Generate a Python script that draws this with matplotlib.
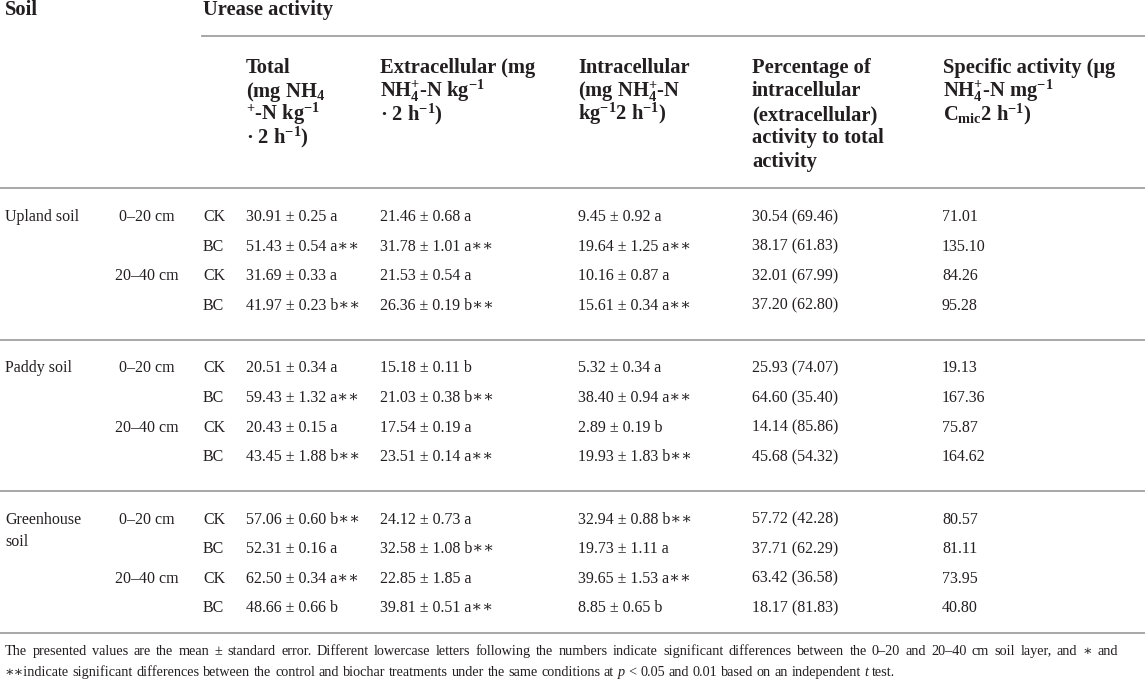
import matplotlib
matplotlib.use("Agg")
from matplotlib import pyplot as plt

plt.rcParams['font.family'] = ['Liberation Serif', 'DejaVu Serif']
plt.rcParams['mathtext.fontset'] = 'custom'
plt.rcParams['mathtext.rm'] = 'Liberation Serif'
plt.rcParams['mathtext.bf'] = 'Liberation Serif:bold'
plt.rcParams['mathtext.it'] = 'Liberation Serif:italic'

# table data
soils = ["Upland soil", "Paddy soil", "Greenhouse\nsoil"]
depths = ["0–20 cm", "20–40 cm"]
treatments = ["CK", "BC"]

total_mean = [30.91, 51.43, 31.69, 41.97, 20.51, 59.43, 20.43, 43.45, 57.06, 52.31, 62.50, 48.66]
total_se = [0.25, 0.54, 0.33, 0.23, 0.34, 1.32, 0.15, 1.88, 0.60, 0.16, 0.34, 0.66]
total_sig = ["a", "a**", "a", "b**", "a", "a**", "a", "b**", "b**", "a", "a**", "b"]

extra_mean = [21.46, 31.78, 21.53, 26.36, 15.18, 21.03, 17.54, 23.51, 24.12, 32.58, 22.85, 39.81]
extra_se = [0.68, 1.01, 0.54, 0.19, 0.11, 0.38, 0.19, 0.14, 0.73, 1.08, 1.85, 0.51]
extra_sig = ["a", "a**", "a", "b**", "b", "b**", "a", "a**", "a", "b**", "a", "a**"]

intra_mean = [9.45, 19.64, 10.16, 15.61, 5.32, 38.40, 2.89, 19.93, 32.94, 19.73, 39.65, 8.85]
intra_se = [0.92, 1.25, 0.87, 0.34, 0.34, 0.94, 0.19, 1.83, 0.88, 1.11, 1.53, 0.65]
intra_sig = ["a", "a**", "a", "a**", "a", "a**", "b", "b**", "b**", "a", "a**", "b"]

pct_intra = [30.54, 38.17, 32.01, 37.20, 25.93, 64.60, 14.14, 45.68, 57.72, 37.71, 63.42, 18.17]
pct_extra = [69.46, 61.83, 67.99, 62.80, 74.07, 35.40, 85.86, 54.32, 42.28, 62.29, 36.58, 81.83]
specific = [71.01, 135.10, 84.26, 95.28, 19.13, 167.36, 75.87, 164.62, 80.57, 81.11, 73.95, 40.80]

col_heads = [
    ["Total", r"(mg NH$_\mathbf{4}$", r"$^\mathbf{+}$-N kg$^{\mathbf{-1}}$", r"· 2 h$^{\mathbf{-1}}$)"],
    ["Extracellular (mg", r"NH$_\mathbf{4}^\mathbf{+}$-N kg$^{\mathbf{-1}}$", r"· 2 h$^{\mathbf{-1}}$)"],
    ["Intracellular", r"(mg NH$_\mathbf{4}^\mathbf{+}$-N", r"kg$^{\mathbf{-1}}$2 h$^{\mathbf{-1}}$)"],
    ["Percentage of", "intracellular", "(extracellular)", "activity to total", "activity"],
    ["Specific activity (μg", r"NH$_\mathbf{4}^\mathbf{+}$-N mg$^{\mathbf{-1}}$", r"C$_\mathbf{mic}$2 h$^{\mathbf{-1}}$)"],
]

# footnote, words marked with _ are italic
footnote = [
    "The presented values are the mean ± standard error. Different lowercase letters following the numbers "
    "indicate significant differences between the 0–20 and 20–40 cm soil layer, and ∗ and",
    "∗∗indicate significant differences between the control and biochar treatments under the same "
    "conditions at _p < 0.05 and 0.01 based on an independent _t test.",
]

ink = '#231f20'
rule = '#a0a0a0'
col_x = [246, 380, 578, 752, 943]
group_lines = [188, 339.5, 490.5, 633]
row_step = 29.6
head_fs = 14.8
body_fs = 11.5
note_fs = 10.3

fig = plt.figure(figsize=(11.45, 6.8), dpi=100)
ax = fig.add_axes([0, 0, 1, 1])
ax.set_xlim(0, 1145)
ax.set_ylim(680, 0)
ax.axis('off')

# header
ax.text(5, 15, "Soil", fontsize=head_fs, fontweight='bold', color=ink)
ax.text(203, 15, "Urease activity", fontsize=head_fs, fontweight='bold', color=ink)
ax.plot([202, 1145], [36, 36], color=rule, lw=1.3)
for x, lines in zip(col_x, col_heads):
    for k, s in enumerate(lines):
        ax.text(x, 73 + 23.5 * k, s, fontsize=head_fs, fontweight='bold', color=ink)

for y in group_lines:
    ax.plot([0, 1145], [y, y], color=rule, lw=1.3)

def star(s):
    return s.replace('*', '∗')

for g, soil in enumerate(soils):
    base = group_lines[g] + 33
    for k, part in enumerate(soil.split("\n")):
        ax.text(5, base + 22 * k, part, fontsize=body_fs, color=ink)
    for d, depth in enumerate(depths):
        ax.text(147, base + 2 * d * row_step, depth, fontsize=body_fs, color=ink, ha='center')
        for t, trt in enumerate(treatments):
            i = g * 4 + d * 2 + t
            y = base + (2 * d + t) * row_step
            ax.text(203, y, trt, fontsize=body_fs, color=ink)
            cells = [
                f"{total_mean[i]:.2f} ± {total_se[i]:.2f} {star(total_sig[i])}",
                f"{extra_mean[i]:.2f} ± {extra_se[i]:.2f} {star(extra_sig[i])}",
                f"{intra_mean[i]:.2f} ± {intra_se[i]:.2f} {star(intra_sig[i])}",
                f"{pct_intra[i]:.2f} ({pct_extra[i]:.2f})",
                f"{specific[i]:.2f}",
            ]
            for x, s in zip(col_x, cells):
                ax.text(x - 1 if x == 943 else x, y, s, fontsize=body_fs, color=ink)

# footnote set word by word; first line justified
renderer = fig.canvas.get_renderer()
def w_of(t):
    return t.get_window_extent(renderer).width

probe = ax.text(0, 0, "a a", fontsize=note_fs)
probe2 = ax.text(0, 0, "aa", fontsize=note_fs)
space_w = w_of(probe) - w_of(probe2)
probe.remove()
probe2.remove()

for k, line in enumerate(footnote):
    words = []
    for wd in line.split(' '):
        ital = wd.startswith('_')
        words.append(ax.text(0, 655 + 21 * k, wd.lstrip('_'), fontsize=note_fs, color=ink,
                             style='italic' if ital else 'normal'))
    widths = [w_of(t) for t in words]
    if k == 0:
        gap = (1118 - 5 - sum(widths)) / (len(words) - 1)
    else:
        gap = space_w
    x = 5
    for t, w in zip(words, widths):
        t.set_x(x)
        x += w + gap

fig.savefig("out.png", dpi=100)
